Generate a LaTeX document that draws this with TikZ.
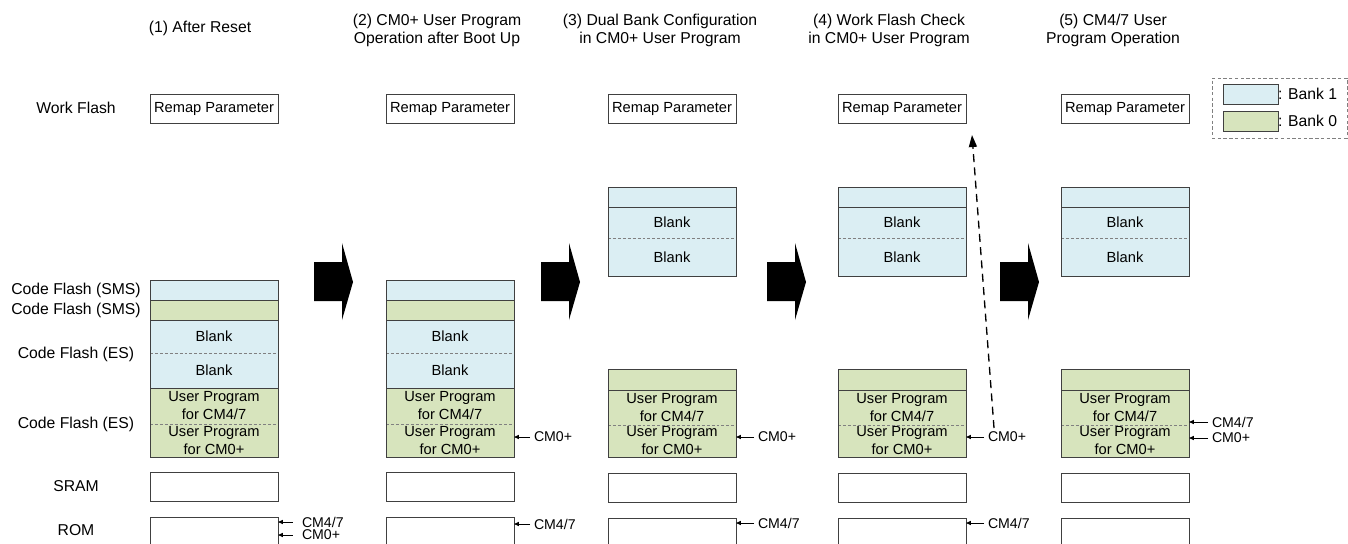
\documentclass[tikz,border=0pt]{standalone}
\usepackage{fontspec}
\setmainfont{Liberation Sans}
\usetikzlibrary{arrows.meta,calc}

\definecolor{bankone}{HTML}{DBEEF3}
\definecolor{bankzero}{HTML}{D7E4BD}
\definecolor{edge}{HTML}{404040}
\definecolor{divline}{HTML}{808080}

% a rectangular node given by its corners (x1,y1)-(x2,y2) in pixel units
\newcommand\memcell[7]{%
  \node[#6, minimum width={(#4-(#2))*0.75pt}, minimum height={(#5-(#3))*0.75pt}]
    (#1) at ({((#2)+(#4))/2},{((#3)+(#5))/2}) {#7};}

% memory map before the dual bank configuration
\newcommand\stackA[2]{%
  \memcell{#1rp}{#2}{94}{#2+128}{123}{plainbox}{Remap Parameter}
  \memcell{#1sa}{#2}{280}{#2+128}{300}{cellone}{}
  \memcell{#1sb}{#2}{300}{#2+128}{320}{cellzero}{}
  \memcell{#1ba}{#2}{320}{#2+128}{353}{fillone}{Blank}
  \memcell{#1bb}{#2}{353}{#2+128}{388}{fillone}{Blank}
  \draw[divider] (#1ba.south west) -- (#1ba.south east);
  \draw[frame] (#1ba.north west) rectangle (#1bb.south east);
  \memcell{#1ua}{#2}{388}{#2+128}{424}{fillzero}{User Program\\for CM4/7}
  \memcell{#1ub}{#2}{424}{#2+128}{457}{fillzero}{User Program\\for CM0+}
  \draw[divider] (#1ua.south west) -- (#1ua.south east);
  \draw[frame] (#1ua.north west) rectangle (#1ub.south east);
  \memcell{#1sr}{#2}{472}{#2+128}{501}{plainbox}{}
  \memcell{#1rom}{#2}{517}{#2+128}{560}{plainbox}{}}

% memory map with the dual bank configuration
\newcommand\stackB[2]{%
  \memcell{#1rp}{#2}{94}{#2+128}{123}{plainbox}{Remap Parameter}
  \memcell{#1ta}{#2}{187}{#2+128}{207}{cellone}{}
  \memcell{#1ba}{#2}{207}{#2+128}{238}{fillone}{Blank}
  \memcell{#1bb}{#2}{238}{#2+128}{276}{fillone}{Blank}
  \draw[divider] (#1ba.south west) -- (#1ba.south east);
  \draw[frame] (#1ba.north west) rectangle (#1bb.south east);
  \memcell{#1ga}{#2}{369}{#2+128}{390}{cellzero}{}
  \memcell{#1ua}{#2}{390}{#2+128}{425}{fillzero}{User Program\\for CM4/7}
  \memcell{#1ub}{#2}{425}{#2+128}{457}{fillzero}{User Program\\for CM0+}
  \draw[divider] (#1ua.south west) -- (#1ua.south east);
  \draw[frame] (#1ua.north west) rectangle (#1ub.south east);
  \memcell{#1sr}{#2}{473}{#2+128}{502}{plainbox}{}
  \memcell{#1rom}{#2}{518}{#2+128}{560}{plainbox}{}}

\begin{document}
\begin{tikzpicture}[x=0.75pt, y=-0.75pt,
  font=\fontsize{11.8}{13.5}\selectfont,
  every node/.style={inner sep=0pt, outer sep=0pt},
  boxtext/.style={font=\fontsize{11}{13.5}\selectfont, align=center},
  plainbox/.style={draw=edge, line width=0.75pt, fill=white, boxtext},
  cellone/.style={draw=edge, line width=0.75pt, fill=bankone, boxtext},
  cellzero/.style={draw=edge, line width=0.75pt, fill=bankzero, boxtext},
  fillone/.style={fill=bankone, boxtext},
  fillzero/.style={fill=bankzero, boxtext},
  frame/.style={draw=edge, line width=0.75pt},
  divider/.style={draw=divline, line width=0.75pt, dash pattern=on 2.2pt off 1.5pt},
  lbl/.style={align=center},
  tag/.style={font=\fontsize{10.6}{12}\selectfont, anchor=west},
  ptr/.style={line width=0.75pt, -{Triangle[length=3.6pt, width=3pt]}},
  checkline/.style={line width=1pt, dash pattern=on 6pt off 4pt, -{Triangle[length=9pt, width=6pt]}},
  legbox/.style={draw=divline, line width=0.75pt, dash pattern=on 2.5pt off 1.8pt}]

\useasboundingbox (0,0) rectangle (1348,543);

% step titles
\node[lbl] (t1) at (200,28) {(1) After Reset};
\node[lbl] (t2) at (437,30) {(2) CM0+ User Program\\Operation after Boot Up};
\node[lbl] (t3) at (660,30) {(3) Dual Bank Configuration\\in CM0+ User Program};
\node[lbl] (t4) at (889,30) {(4) Work Flash Check\\in CM0+ User Program};
\node[lbl] (t5) at (1113,30) {(5) CM4/7 User\\Program Operation};

% area names
\node[lbl] (nwf) at (76,108) {Work Flash};
\node[lbl] (ncs1) at (76,290) {Code Flash (SMS)};
\node[lbl] (ncs2) at (76,310) {Code Flash (SMS)};
\node[lbl] (nes1) at (76,354) {Code Flash (ES)};
\node[lbl] (nes2) at (76,424) {Code Flash (ES)};
\node[lbl] (nsr) at (76,486) {SRAM};
\node[lbl] (nrom) at (76,530) {ROM};

% memory maps
\stackA{a}{150}
\stackA{b}{386}
\stackB{c}{608}
\stackB{d}{838}
\stackB{e}{1061}

% block arrows between the steps
\foreach \bx in {314,541,767,1000}
  \fill (\bx,262) -- (\bx+28,262) -- (\bx+28,243) -- (\bx+39,282)
        -- (\bx+28,320) -- (\bx+28,301) -- (\bx,301) -- cycle;

% boot pointers
\node[tag] (a47) at (302,522) {CM4/7};
\node[tag] (a0) at (302,535) {CM0+};
\draw[ptr] ([xshift=-7pt]a47.west) -- (arom.east |- a47.west);
\draw[ptr] ([xshift=-7pt]a0.west) -- (arom.east |- a0.west);

\node[tag] (b0) at (534,437) {CM0+};
\draw[ptr] ([xshift=-3pt]b0.west) -- (bub.east |- b0.west);
\node[tag] (b47) at (534,524) {CM4/7};
\draw[ptr] ([xshift=-3pt]b47.west) -- (brom.east |- b47.west);

\node[tag] (c0) at (758,437) {CM0+};
\draw[ptr] ([xshift=-3pt]c0.west) -- (cub.east |- c0.west);
\node[tag] (c47) at (758,523) {CM4/7};
\draw[ptr] ([xshift=-3pt]c47.west) -- (crom.east |- c47.west);

\node[tag] (d0) at (988,437) {CM0+};
\draw[ptr] ([xshift=-3pt]d0.west) -- (dub.east |- d0.west);
\node[tag] (d47) at (988,523) {CM4/7};
\draw[ptr] ([xshift=-3pt]d47.west) -- (drom.east |- d47.west);

\node[tag] (e47) at (1212,422) {CM4/7};
\draw[ptr] ([xshift=-3pt]e47.west) -- (eua.east |- e47.west);
\node[tag] (e0) at (1212,438) {CM0+};
\draw[ptr] ([xshift=-3pt]e0.west) -- (eub.east |- e0.west);

% work flash check from the CM0+ program
\coordinate (chk) at (994,428);
\coordinate (chkend) at (972,135);
\draw[checkline] (chk) -- (chkend);

% legend
\memcell{leg}{1212}{78}{1347}{138}{legbox}{}
\memcell{k1}{1223}{84}{1278}{104}{cellone}{}
\memcell{k0}{1223}{111}{1278}{131}{cellzero}{}
\node[lbl, anchor=west] (k1t) at (k1.east) {: Bank 1};
\node[lbl, anchor=west] (k0t) at (k0.east) {: Bank 0};
\end{tikzpicture}
\end{document}
